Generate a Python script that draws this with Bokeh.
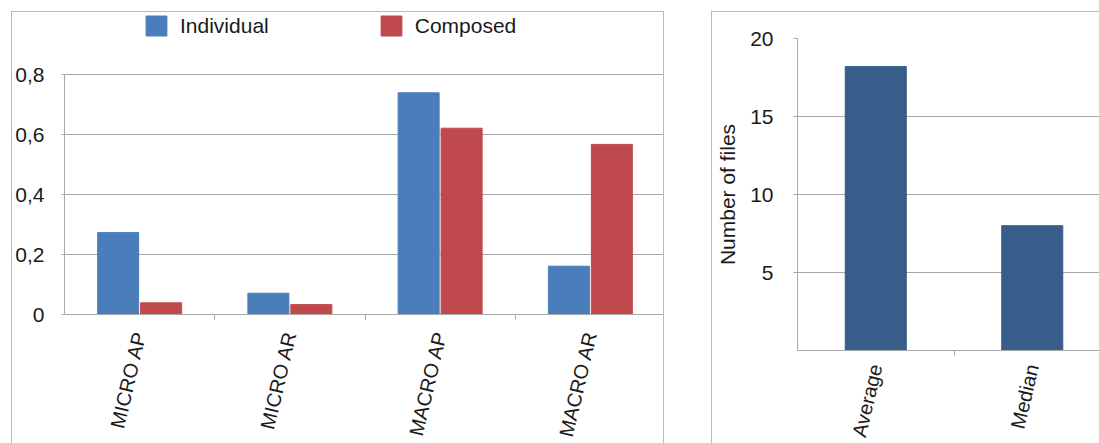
from bokeh.plotting import figure
from bokeh.models import Range1d, FixedTicker, ColumnDataSource, Legend, LegendItem
from bokeh.transform import dodge
from bokeh.embed import file_html
from bokeh.resources import INLINE

# ---------------- data ----------------
categories = ["MICRO AP", "MICRO AR", "MACRO AP", "MACRO AR"]
individual = [0.273, 0.071, 0.739, 0.161]
composed = [0.039, 0.033, 0.621, 0.567]
y_ticks = [0, 0.2, 0.4, 0.6, 0.8]
y_tick_labels = ["0", "0,2", "0,4", "0,6", "0,8"]

stats = ["Average", "Median"]
files = [18.2, 8.0]
files_ticks = [5, 10, 15, 20]

# ---------------- style ----------------
FONT = "Liberation Sans"
TXT = "#1a1a1a"
GRID = "#a8a8a8"
PANEL = "#b9b9b9"
BLUE = "#4a7ebb"
RED = "#c0494d"
NAVY = "#385d8a"
FS = "21px"
XFS = "20px"


def base_style(p):
    p.outline_line_color = None
    p.background_fill_color = "white"
    p.border_fill_color = "white"
    for ax in (p.xaxis[0], p.yaxis[0]):
        ax.axis_line_color = GRID
        ax.major_tick_line_color = GRID
        ax.minor_tick_line_color = GRID
        ax.major_tick_in = 0
        ax.minor_tick_in = 0
        ax.major_label_text_font = FONT
        ax.major_label_text_font_size = FS
        ax.major_label_text_color = TXT
    p.xgrid.visible = False
    p.ygrid.grid_line_color = GRID
    p.ygrid.grid_line_width = 1


# ---------------- left panel ----------------
cx = [i + 0.5 for i in range(len(categories))]
src = ColumnDataSource(dict(x=cx, individual=individual, composed=composed))

left = figure(width=653, height=432, x_range=Range1d(0, len(categories)),
              y_range=Range1d(0, 1.0067), output_backend="svg", toolbar_location=None,
              min_border_left=51, min_border_right=0, min_border_top=0,
              min_border_bottom=129)
left.styles = {"position": "absolute", "left": "11px", "top": "11px",
               "border-top": f"1px solid {PANEL}", "border-left": f"1px solid {PANEL}",
               "border-right": f"1px solid {PANEL}"}

r1 = left.vbar(x=dodge("x", -0.143, range=left.x_range), top="individual", width=0.273,
               source=src, fill_color=BLUE, line_color=BLUE)
r2 = left.vbar(x=dodge("x", 0.143, range=left.x_range), top="composed", width=0.273,
               source=src, fill_color=RED, line_color=RED)

base_style(left)
left.xaxis.ticker = FixedTicker(ticks=cx, minor_ticks=[1, 2, 3])
left.xaxis.major_label_overrides = dict(zip(cx, categories))
left.xaxis.major_label_orientation = 1.34
left.xaxis.major_label_text_font_size = XFS
left.xaxis.major_tick_out = 0
left.xaxis.minor_tick_out = 5
left.xaxis.major_label_standoff = 12
left.yaxis.ticker = FixedTicker(ticks=y_ticks)
left.yaxis.bounds = (0, 0.8)
left.yaxis.major_label_overrides = dict(zip(y_ticks, y_tick_labels))
left.yaxis.major_tick_out = 3
left.yaxis.major_label_standoff = 17

legend = Legend(items=[LegendItem(label="Individual", renderers=[r1]),
                       LegendItem(label="Composed", renderers=[r2])],
                orientation="horizontal", location=(79, 276), spacing=109,
                label_standoff=11, glyph_width=26, glyph_height=25, padding=0,
                margin=0, border_line_color=None, background_fill_alpha=0,
                label_text_font=FONT, label_text_font_size=FS, label_text_color=TXT)
left.add_layout(legend)

# ---------------- right panel ----------------
sx = [i + 0.5 for i in range(len(stats))]
src2 = ColumnDataSource(dict(x=sx, files=files))

right = figure(width=388, height=432, x_range=Range1d(0, 1.936), y_range=Range1d(0, 20),
               output_backend="svg", toolbar_location=None,
               min_border_left=85, min_border_right=0, min_border_top=26,
               min_border_bottom=93)
right.styles = {"position": "absolute", "left": "711px", "top": "11px",
                "border-top": f"1px solid {PANEL}", "border-left": f"1px solid {PANEL}"}

right.vbar(x="x", top="files", width=0.39, source=src2, fill_color=NAVY, line_color=NAVY)

base_style(right)
right.xaxis.ticker = FixedTicker(ticks=sx, minor_ticks=[1])
right.xaxis.major_label_overrides = dict(zip(sx, stats))
right.xaxis.major_label_orientation = 1.34
right.xaxis.major_label_text_font_size = XFS
right.xaxis.major_tick_out = 0
right.xaxis.minor_tick_out = 5
right.xaxis.major_label_standoff = 9
right.yaxis.ticker = FixedTicker(ticks=files_ticks)
right.yaxis.major_tick_out = 4
right.yaxis.major_label_standoff = 20
right.yaxis.axis_label = "Number of files"
right.yaxis.axis_label_text_font = FONT
right.yaxis.axis_label_text_font_size = FS
right.yaxis.axis_label_text_font_style = "normal"
right.yaxis.axis_label_text_color = TXT
right.yaxis.axis_label_standoff = 8

open("out.html", "w").write(file_html([left, right], INLINE))
